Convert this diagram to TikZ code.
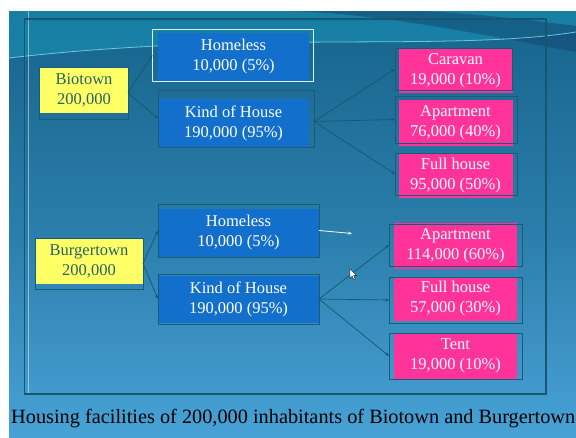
\documentclass[tikz,border=0pt]{standalone}
\usepackage{fontspec}
\setmainfont{Liberation Serif}
\usetikzlibrary{arrows.meta}
\definecolor{bgtop}{RGB}{22,100,140}
\definecolor{bgbot}{RGB}{72,162,214}
\definecolor{boxblue}{RGB}{18,112,204}
\definecolor{boxpink}{RGB}{255,51,153}
\definecolor{boxyellow}{RGB}{255,255,102}
\definecolor{ytext}{RGB}{40,100,100}
\definecolor{olcol}{RGB}{25,92,118}
\definecolor{framecol}{RGB}{22,86,112}
\definecolor{arrcol}{RGB}{20,88,110}
\definecolor{wavecyan}{RGB}{25,145,180}
\definecolor{wavedark}{RGB}{18,72,115}
\definecolor{waveline}{RGB}{130,220,230}
\tikzset{
  fillbase/.style={rectangle, inner sep=0pt, outer sep=0pt, align=center,
    font=\fontsize{16.5}{20}\selectfont},
  bluebox/.style={fillbase, fill=boxblue, text=white},
  pinkbox/.style={fillbase, fill=boxpink, text=white},
  yellowbox/.style={fillbase, fill=boxyellow, text=ytext},
  olbox/.style={rectangle, inner sep=0pt, outer sep=0pt, draw=olcol, line width=0.8pt},
  wbox/.style={rectangle, inner sep=0pt, outer sep=0pt, draw=white!85!cyan, line width=0.8pt},
  conn/.style={draw=arrcol, line width=0.7pt, -{Stealth[length=4pt,width=3pt]}},
}
\begin{document}
\begin{tikzpicture}[x=1pt,y=-1pt]
\useasboundingbox (0,0) rectangle (576,437);
\fill[white] (0,0) rectangle (576,437);
% background
\shade[top color=bgtop, bottom color=bgbot, middle color=bgtop!60!bgbot] (9,11) rectangle (576,437);
\fill[wavecyan, opacity=0.6] (9,11) -- (576,11) -- (576,32) .. controls (450,52) and (250,30) .. (9,58) -- cycle;
\fill[wavedark, opacity=0.55] (290,11) .. controls (380,14) and (470,32) .. (576,52) -- (576,26) .. controls (500,16) and (450,12) .. (420,11) -- cycle;
\draw[waveline, opacity=0.8, line width=0.8pt] (9,58) .. controls (250,30) and (450,52) .. (576,32);
\draw[white, opacity=0.45, line width=0.6pt] (28,11) -- (28,394);
% frame
\draw[framecol, line width=1.3pt] (24.6,19) rectangle (546,394);

% filled boxes with text
\node[yellowbox, minimum width=88pt, minimum height=46pt] (bio) at (84,90) {Biotown\\200,000};
\node[bluebox, minimum width=151pt, minimum height=48pt] (hom1) at (233.5,57) {Homeless\\10,000 (5\%)};
\node[bluebox, minimum width=151pt, minimum height=48pt] (kind1) at (233.5,123) {Kind of House\\190,000 (95\%)};
\node[pinkbox, minimum width=114pt, minimum height=45pt] (car) at (455.5,70.5) {Caravan\\19,000 (10\%)};
\node[pinkbox, minimum width=114pt, minimum height=46pt] (apt1) at (455.5,123) {Apartment\\76,000 (40\%)};
\node[pinkbox, minimum width=114pt, minimum height=45pt] (full1) at (455.5,175.5) {Full house\\95,000 (50\%)};

\node[yellowbox, minimum width=108pt, minimum height=46pt] (burg) at (89,261) {Burgertown\\200,000};
\node[bluebox, minimum width=161pt, minimum height=48pt] (hom2) at (238.5,233) {Homeless\\10,000 (5\%)};
\node[bluebox, minimum width=161pt, minimum height=47pt] (kind2) at (238.5,299.5) {Kind of House\\190,000 (95\%)};
\node[pinkbox, minimum width=123pt, minimum height=46pt] (apt2) at (455.5,246) {Apartment\\114,000 (60\%)};
\node[pinkbox, minimum width=123pt, minimum height=44pt] (full2) at (455.5,299) {Full house\\57,000 (30\%)};
\node[pinkbox, minimum width=123pt, minimum height=46pt] (tent) at (455.5,356) {Tent\\19,000 (10\%)};

% outline boxes
\node[olbox, minimum width=89pt, minimum height=52pt] (bioo) at (83.5,93) {};
\node[wbox, minimum width=161pt, minimum height=52pt] (hom1o) at (233,55) {};
\node[olbox, minimum width=156pt, minimum height=57pt] (kind1o) at (236,118.5) {};
\node[olbox, minimum width=117pt, minimum height=42pt] (caro) at (453.5,69) {};
\node[olbox, minimum width=122pt, minimum height=47pt] (apt1o) at (456,119.5) {};
\node[olbox, minimum width=122pt, minimum height=42pt] (full1o) at (456,174) {};

\node[olbox, minimum width=108pt, minimum height=51pt] (burgo) at (89,263.5) {};
\node[olbox, minimum width=161pt, minimum height=53pt] (hom2o) at (238.5,230.5) {};
\node[olbox, minimum width=161pt, minimum height=50pt] (kind2o) at (238.5,299) {};
\node[olbox, minimum width=133pt, minimum height=42pt] (apt2o) at (455.5,245) {};
\node[olbox, minimum width=133pt, minimum height=46pt] (full2o) at (455.5,300) {};
\node[olbox, minimum width=133pt, minimum height=46pt] (tento) at (455.5,356) {};

% connectors
\draw[conn] (bioo.east) -- (hom1o.west);
\draw[conn] (bioo.east) -- (kind1o.west);
\draw[conn] ([yshift=-3pt]kind1o.east) -- (caro.west);
\draw[conn] ([yshift=-3pt]kind1o.east) -- (apt1o.west);
\draw[conn] ([yshift=-3pt]kind1o.east) -- (full1o.west);

\draw[conn] (burgo.east) -- (hom2o.west);
\draw[conn] (burgo.east) -- (kind2o.west);
\draw[conn] (kind2o.east) -- (apt2o.west);
\draw[conn] (kind2o.east) -- (full2o.west);
\draw[conn] (kind2o.east) -- (tento.west);

\coordinate (wend) at (352,233.5);
\draw[white, line width=0.8pt, -{Stealth[length=4pt,width=3pt]}] (hom2o.east) -- (wend);

% mouse cursor
\draw[black, fill=white, line width=0.3pt, shift={(350,269)}, scale=0.85]
  (0,0) -- (0,11) -- (2.6,8.4) -- (4.4,12.4) -- (6,11.7) -- (4.3,7.8) -- (7.8,7.8) -- cycle;

% caption
\node[anchor=base west, inner sep=0pt, font=\fontsize{20.3}{24}\selectfont, text=black] (cap) at (11,423)
  {Housing facilities of 200,000 inhabitants of Biotown and Burgertown};
\end{tikzpicture}
\end{document}
